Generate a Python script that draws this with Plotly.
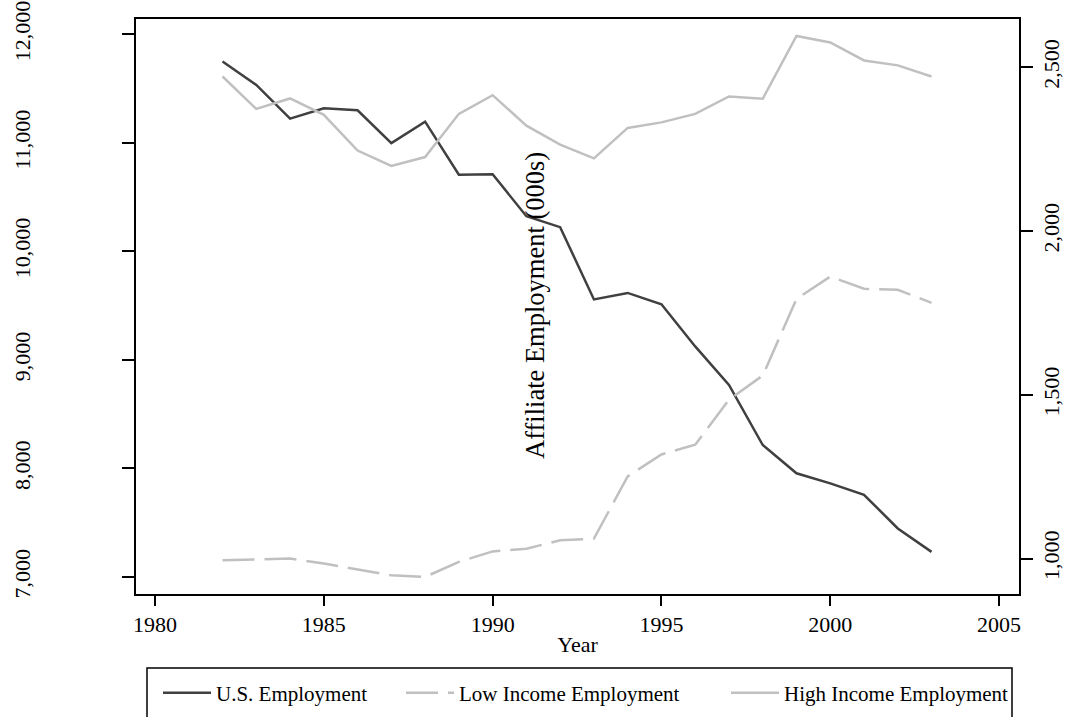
import plotly.graph_objects as go

years = list(range(1982, 2004))
us_employment = [11750, 11534, 11223, 11318, 11300, 10998, 11195, 10706, 10710, 10324, 10223,
                 9557, 9617, 9512, 9124, 8770, 8216, 7955, 7862, 7757, 7447, 7231]
low_income = [995, 998, 1000, 985, 967, 949, 944, 990, 1022, 1030, 1056,
              1061, 1251, 1318, 1348, 1485, 1559, 1793, 1861, 1824, 1821, 1781]
high_income = [2472, 2373, 2405, 2355, 2246, 2199, 2226, 2358, 2415, 2322, 2264,
               2222, 2315, 2332, 2358, 2411, 2404, 2596, 2576, 2521, 2506, 2472]

x_ticks = [1980, 1985, 1990, 1995, 2000, 2005]
left_ticks = [7000, 8000, 9000, 10000, 11000, 12000]
right_ticks = [1000, 1500, 2000, 2500]

FONT = "Liberation Serif"
W, H = 1067, 717
L, R, T, B = 136, 48, 19, 123
pw, ph = W - L - R, H - T - B

fig = go.Figure()
fig.add_trace(go.Scatter(x=years, y=us_employment, name="U.S. Employment", mode="lines",
                         line=dict(color="#404040", width=2.5), yaxis="y", legendwidth=180))
fig.add_trace(go.Scatter(x=years, y=low_income, name="Low Income Employment", mode="lines",
                         line=dict(color="#c0c0c0", width=2.5, dash="32px,10px"), yaxis="y2",
                         legendwidth=262))
fig.add_trace(go.Scatter(x=years, y=high_income, name="High Income Employment", mode="lines",
                         line=dict(color="#c0c0c0", width=2.5), yaxis="y2", legendwidth=234))

def px_x(px):
    return (px - L) / pw

def px_y(py):
    return (H - B - py) / ph

fig.update_layout(
    width=W, height=H,
    margin=dict(l=L, r=R, t=T, b=B, autoexpand=False),
    paper_bgcolor="white", plot_bgcolor="white",
    font=dict(family=FONT, color="black", size=22),
    showlegend=True,
    xaxis=dict(range=[1979.437, 2005.59], tickvals=x_ticks, ticks="outside", ticklen=10,
               tickwidth=1.5, tickcolor="black", showline=True, linecolor="black", linewidth=2,
               mirror=True, showgrid=False, zeroline=False, automargin=False,
               tickfont=dict(family=FONT, size=22),
               title=dict(text="Year", font=dict(family=FONT, size=22), standoff=0)),
    yaxis=dict(range=[6843, 12141], tickvals=left_ticks, tickformat=",d", ticks="outside",
               ticklen=12, tickwidth=1.5, tickcolor="black", showline=True, linecolor="black",
               linewidth=2, showgrid=False, zeroline=False, tickangle=-90, automargin=False,
               ticklabelstandoff=83, tickfont=dict(family=FONT, size=22)),
    yaxis2=dict(range=[891.9, 2647.6], tickvals=right_ticks, tickformat=",d", ticks="outside",
                ticklen=12, tickwidth=1.5, tickcolor="black", showline=True, linecolor="black",
                linewidth=2, showgrid=False, zeroline=False, tickangle=-90, overlaying="y",
                side="right", automargin=False, tickfont=dict(family=FONT, size=22)),
    legend=dict(orientation="h", x=px_x(158), y=px_y(693), xanchor="left", yanchor="middle",
                itemwidth=48, bgcolor="rgba(0,0,0,0)", borderwidth=0,
                font=dict(family=FONT, size=21)),
    annotations=[dict(text="Affiliate Employment (000s)", x=px_x(535), y=px_y(306),
                      xref="paper", yref="paper", showarrow=False, textangle=-90,
                      font=dict(family=FONT, size=26.5, color="black"))],
    shapes=[dict(type="rect", xref="paper", yref="paper", x0=px_x(147), x1=px_x(1012),
                 y0=px_y(730), y1=px_y(668), line=dict(color="black", width=1.5),
                 fillcolor="rgba(0,0,0,0)")],
)

fig.write_html("out.html", config={"displayModeBar": False},
               post_script="document.body.style.margin='0px';document.body.style.overflow='hidden';")
